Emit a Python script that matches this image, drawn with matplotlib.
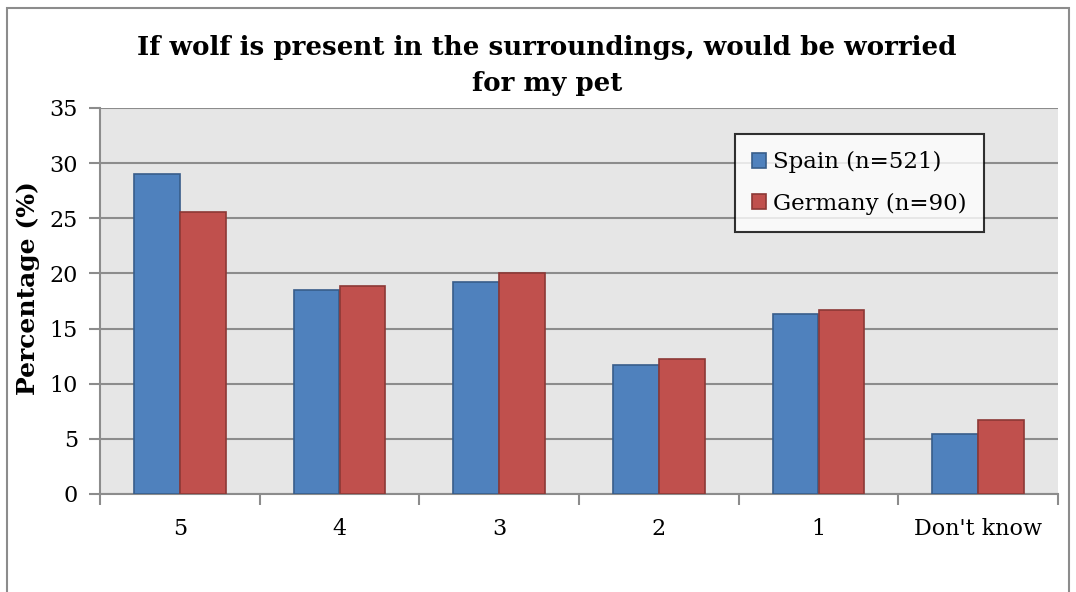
import matplotlib
matplotlib.use("Agg")
import matplotlib.pyplot as plt
import numpy as np
from matplotlib.patches import Rectangle

categories = ["5", "4", "3", "2", "1", "Don't know"]
spain = [29.0, 18.5, 19.2, 11.7, 16.3, 5.4]
germany = [25.6, 18.9, 20.0, 12.2, 16.7, 6.7]
series_names = ["Spain (n=521)", "Germany (n=90)"]
title = "If wolf is present in the surroundings, would be worried\nfor my pet"
ylabel = "Percentage (%)"

plt.rcParams['font.family'] = ['DejaVu Serif']

fig = plt.figure(figsize=(10.76, 5.92), dpi=100)
fig.patches.append(Rectangle((7/1076, -0.1), (1069-7)/1076, 1.1 - 8/592, transform=fig.transFigure,
                             fill=False, edgecolor='#8c8c8c', linewidth=1.5))
ax = fig.add_axes([100/1076, 1-494/592, 958/1076, 386/592])
ax.set_facecolor('#e6e6e6')

x = np.arange(len(categories))
w = 0.288
ax.bar(x - w/2, spain, w, color='#4f81bd', edgecolor='#385d8a', linewidth=1.2, label=series_names[0], zorder=3)
ax.bar(x + w/2, germany, w, color='#c0504d', edgecolor='#8c3836', linewidth=1.2, label=series_names[1], zorder=3)

ax.set_xlim(-0.5, len(categories) - 0.5)
ax.set_ylim(0, 35)
ax.set_yticks(np.arange(0, 36, 5))
ax.yaxis.grid(True, color='#8c8c8c', linewidth=1.5, zorder=0)
ax.set_axisbelow(True)

ax.set_xticks(x)
ax.set_xticklabels(categories, fontsize=16)
ax.set_xticks(np.arange(-0.5, len(categories), 1), minor=True)
ax.tick_params(axis='x', which='major', length=0, pad=17)
ax.tick_params(axis='x', which='minor', length=8, width=1.5, color='#8c8c8c')
ax.tick_params(axis='y', length=8, width=1.5, color='#8c8c8c', labelsize=16, pad=8)

for s in ['top', 'right']:
    ax.spines[s].set_visible(False)
for s in ['left', 'bottom']:
    ax.spines[s].set_color('#8c8c8c')
    ax.spines[s].set_linewidth(1.5)

ax.set_ylabel(ylabel, fontsize=18, fontweight='bold')
ax.yaxis.set_label_coords(-60/958, (494-288)/386)
fig.text(547/1076, 1-66/592, title, ha='center', va='center', fontsize=18.8, fontweight='bold', linespacing=1.55)

leg = ax.legend(loc='upper left', bbox_to_anchor=((735-100)/958, (494-134)/386), fontsize=16.5,
                frameon=True, fancybox=False, edgecolor='black', handlelength=0.62, handleheight=0.62,
                handletextpad=0.3, borderpad=0.75, labelspacing=0.85, borderaxespad=0)
leg.get_frame().set_linewidth(1.5)

fig.savefig('out.png', dpi=100)
